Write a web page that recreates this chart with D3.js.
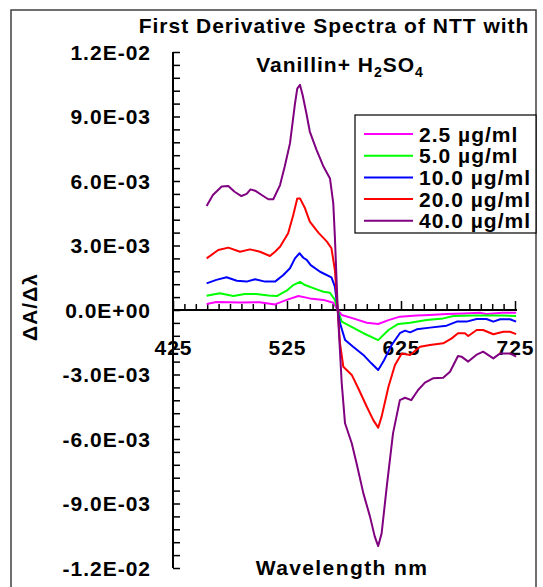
<!DOCTYPE html>
<html><head><meta charset="utf-8">
<script src="https://cdn.jsdelivr.net/npm/d3@7"></script>
<style>body{margin:0;background:#fff}svg{display:block}text{font-family:"Liberation Sans",Arial,sans-serif;font-weight:bold;fill:#000;letter-spacing:1px}</style>
</head><body>
<script>
const seriesNames = ["2.5 µg/ml","5.0 µg/ml","10.0 µg/ml","20.0 µg/ml","40.0 µg/ml"];
const seriesColors = ["#ff00ff","#00ff00","#0000ff","#ff0000","#800080"];
const xTickLabels = [425,525,625,725];
const yTickValues = [0.012,0.009,0.006,0.003,0,-0.003,-0.006,-0.009,-0.012];

const data2_5 = [[454.5,0.28e-3],[463,0.37e-3],[484,0.35e-3],[501,0.36e-3],[514.5,0.26e-3],[524.7,0.47e-3],[535,0.65e-3],[545,0.54e-3],[557,0.47e-3],[565.6,0.34e-3],[569.5,0],[573,-0.23e-3],[583,-0.39e-3],[595,-0.59e-3],[605,-0.65e-3],[614,-0.47e-3],[624,-0.31e-3],[638.8,-0.26e-3],[650,-0.23e-3],[665,-0.19e-3],[680,-0.16e-3],[694,-0.13e-3],[700,-0.19e-3],[714,-0.13e-3],[726,-0.13e-3]];
const data5_0 = [[454.5,0.66e-3],[466,0.78e-3],[478,0.65e-3],[488,0.74e-3],[498,0.74e-3],[508.6,0.67e-3],[516,0.65e-3],[524.7,0.9e-3],[530.5,1.16e-3],[536.4,1.31e-3],[540.8,1.16e-3],[551,0.96e-3],[557,0.85e-3],[562.7,0.8e-3],[567,0.47e-3],[569.5,0],[573,-0.54e-3],[580,-0.74e-3],[592,-1.08e-3],[605,-1.4e-3],[614,-0.93e-3],[622.6,-0.65e-3],[633,-0.59e-3],[647.5,-0.47e-3],[662,-0.39e-3],[671,-0.28e-3],[689,-0.26e-3],[714,-0.26e-3],[726,-0.28e-3]];
const data10 = [[454.5,1.24e-3],[463,1.4e-3],[472,1.52e-3],[481,1.36e-3],[489.6,1.32e-3],[497,1.43e-3],[505.7,1.32e-3],[514.5,1.32e-3],[521.8,1.63e-3],[527.6,1.94e-3],[532,2.4e-3],[536,2.64e-3],[539.3,2.43e-3],[542.3,2.33e-3],[545.8,2.09e-3],[554,1.78e-3],[564,1.52e-3],[567,1.09e-3],[569.5,0],[571.5,-0.62e-3],[576,-1.4e-3],[583,-1.71e-3],[592,-2.09e-3],[599,-2.48e-3],[605,-2.79e-3],[609.5,-2.4e-3],[616.8,-1.63e-3],[624,-1.08e-3],[628.5,-0.96e-3],[633,-1.04e-3],[638.8,-0.9e-3],[650.4,-0.82e-3],[665,-0.73e-3],[674,-0.54e-3],[682.6,-0.54e-3],[691.4,-0.42e-3],[700,-0.42e-3],[706,-0.54e-3],[712,-0.43e-3],[720.6,-0.43e-3],[726,-0.54e-3]];
const data20 = [[454.5,2.4e-3],[464.7,2.79e-3],[473.5,2.9e-3],[483.8,2.71e-3],[492.5,2.82e-3],[501.3,2.71e-3],[510,2.51e-3],[514.5,2.71e-3],[518.9,2.94e-3],[526,3.57e-3],[530.5,4.42e-3],[534,5.19e-3],[536.4,5.19e-3],[540.8,4.73e-3],[545,4.11e-3],[552.5,3.6e-3],[560,3.18e-3],[564,2.87e-3],[567,1.86e-3],[569.5,0],[571.5,-1.55e-3],[574.4,-2.64e-3],[581.8,-3.02e-3],[587.5,-3.64e-3],[595,-4.5e-3],[600.7,-5.12e-3],[605,-5.47e-3],[608,-4.96e-3],[614,-3.57e-3],[619.7,-2.56e-3],[625.6,-2.02e-3],[633,-2.09e-3],[641.7,-1.71e-3],[650.4,-1.63e-3],[662,-1.55e-3],[669.5,-1.32e-3],[675,-1.08e-3],[681,-1.08e-3],[684,-1.21e-3],[691.4,-0.93e-3],[697,-0.93e-3],[706,-1.13e-3],[714.7,-1.01e-3],[720.6,-1.01e-3],[726,-1.12e-3]];
const data40 = [[454.5,4.84e-3],[460,5.35e-3],[467.7,5.74e-3],[473.5,5.77e-3],[479,5.5e-3],[485,5.3e-3],[489.6,5.4e-3],[493,5.61e-3],[497,5.55e-3],[502.8,5.35e-3],[508.6,5.15e-3],[513,5.15e-3],[518.9,5.81e-3],[523,6.67e-3],[527.6,7.75e-3],[532,9.6e-3],[534,10.3e-3],[536.4,10.47e-3],[538.7,10.0e-3],[542,9.15e-3],[545,8.3e-3],[551,7.44e-3],[557,6.67e-3],[562.7,6.12e-3],[565.6,4.96e-3],[567,3.4e-3],[569.5,0],[573,-3.4e-3],[575.9,-5.27e-3],[581.8,-6.2e-3],[586,-7.13e-3],[592,-8.53e-3],[597.8,-9.61e-3],[602,-10.54e-3],[605,-10.98e-3],[608,-10.39e-3],[612.5,-8.22e-3],[618,-5.74e-3],[624,-4.19e-3],[628.5,-4.08e-3],[634,-4.19e-3],[640,-3.72e-3],[646,-3.38e-3],[653,-3.18e-3],[662,-3.15e-3],[668,-2.87e-3],[675,-2.14e-3],[678,-2.17e-3],[684,-2.4e-3],[691,-2.09e-3],[697,-1.94e-3],[706,-2.25e-3],[712,-2.02e-3],[720.6,-2.02e-3],[726,-2.17e-3]];
const allSeries = [data2_5,data5_0,data10,data20,data40];

const W = 543, H = 587;
const svg = d3.select("body").append("svg").attr("width",W).attr("height",H);

// outer frame
svg.append("rect").attr("x",11).attr("y",10).attr("width",525).attr("height",620)
  .attr("fill","none").attr("stroke","#404040").attr("stroke-width",1.5);

const x = d3.scaleLinear().domain([425,725]).range([173,515]);
const y = d3.scaleLinear().domain([-0.012,0.012]).range([568,52]);

// y axis
const yMinor = d3.range(-20,21).map(i=>i*0.0006);
const yAxis = d3.axisRight(y).tickValues(yMinor).tickSize(7).tickFormat("");
const gy = svg.append("g").attr("transform",`translate(${x(425)},0)`).call(yAxis);
gy.select(".domain").attr("stroke","#000").attr("stroke-width",2).attr("d",`M0,${y(0.012)}V${y(-0.012)}`);
gy.selectAll(".tick line").attr("stroke","#000").attr("stroke-width",1.5);

svg.append("g").selectAll("text").data(yTickValues).join("text")
  .attr("x",151).attr("y",d=>y(d)).attr("dy","0.36em").attr("text-anchor","end")
  .style("font-size","21px")
  .text(d=>{ if(d===0) return "0.0E+00"; const s=d.toExponential(1).toUpperCase(); return s.replace(/E([+-])(\d)$/,"E$10$2"); });

// x axis
const xMinor = d3.range(0,31).map(i=>425+i*10);
const xAxis = d3.axisTop(x).tickValues(xMinor).tickSize(6).tickFormat("");
const gx = svg.append("g").attr("transform",`translate(0,${y(0)})`).call(xAxis);
gx.select(".domain").attr("stroke","#000").attr("stroke-width",2).attr("d",`M${x(425)},0H${x(725)+2}`);
gx.selectAll(".tick line").attr("stroke","#000").attr("stroke-width",1.5)
  .attr("y2",d=>(d-425)%100===0?-9:-6);

svg.append("g").selectAll("text").data(xTickLabels).join("text")
  .attr("x",d=>x(d)+0.5).attr("y",355).attr("text-anchor","middle")
  .style("font-size","21px").text(d=>d);

// curves
const line = d3.line().x(d=>x(d[0])).y(d=>y(d[1]));
svg.append("g").selectAll("path").data(allSeries).join("path")
  .attr("d",line).attr("fill","none")
  .attr("stroke",(d,i)=>seriesColors[i]).attr("stroke-width",2).attr("stroke-linejoin","round");

// title
svg.append("text").attr("x",334).attr("y",33).attr("text-anchor","middle")
  .style("font-size","21px").text("First Derivative Spectra of NTT with");
const t2 = svg.append("text").attr("x",340).attr("y",72).attr("text-anchor","middle").style("font-size","21px");
t2.append("tspan").text("Vanillin+ H");
t2.append("tspan").attr("dy",5).style("font-size","14px").text("2");
t2.append("tspan").attr("dy",-5).text("SO");
t2.append("tspan").attr("dy",5).style("font-size","14px").text("4");

// axis titles
svg.append("text").attr("transform","translate(29,307) rotate(-90)").attr("text-anchor","middle")
  .attr("dy","0.36em").style("font-size","21px").text("ΔA/Δλ");
svg.append("text").attr("x",342).attr("y",575).attr("text-anchor","middle")
  .style("font-size","21px").style("letter-spacing","1.4px").text("Wavelength nm");

// legend
const lg = svg.append("g");
lg.append("rect").attr("x",355).attr("y",115).attr("width",181).attr("height",118)
  .attr("fill","#fff").attr("stroke","#000").attr("stroke-width",1.2);
const rows = lg.selectAll("g.row").data(seriesNames).join("g").attr("class","row")
  .attr("transform",(d,i)=>`translate(0,${134+i*21.7})`);
rows.append("line").attr("x1",364).attr("x2",413).attr("y1",0).attr("y2",0)
  .attr("stroke",(d,i)=>seriesColors[i]).attr("stroke-width",2);
rows.append("text").attr("x",419).attr("dy","0.36em").style("font-size","21px").text(d=>d);
</script>
</body></html>
